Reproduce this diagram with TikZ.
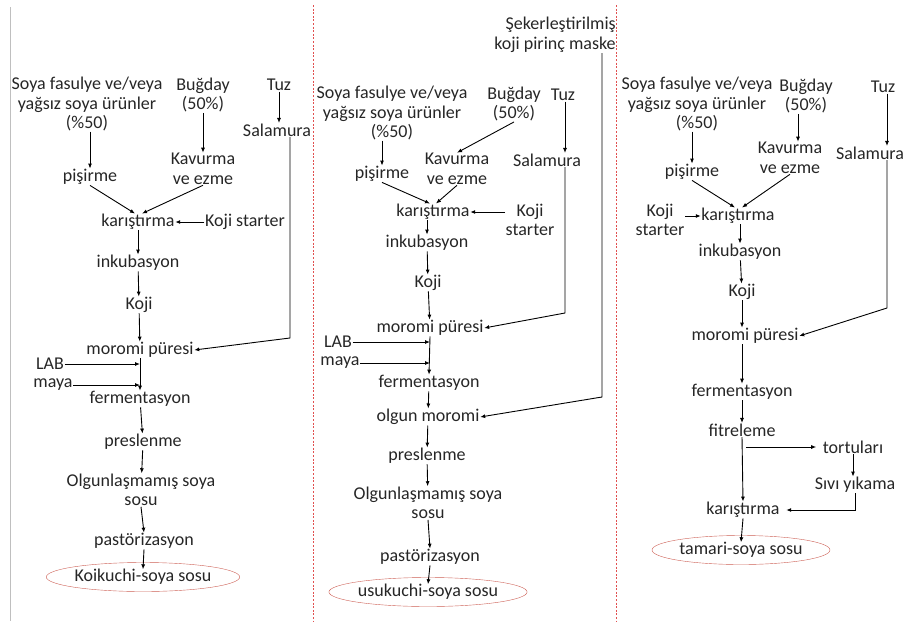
\documentclass[tikz,border=0pt]{standalone}
\usepackage{fontspec}
\setmainfont{Carlito}
\usepackage{tikz}
\usetikzlibrary{arrows.meta, shapes.geometric, positioning, calc}
\usepackage{xcolor}
\definecolor{ovalred}{RGB}{205,95,85}
\definecolor{sepred}{RGB}{225,80,80}
\tikzset{
  lbl/.style={
    inner sep=0.5pt, align=center, text=black!85,
    font=\fontsize{18}{19.5}\selectfont
  },
  product/.style={
    ellipse, draw=ovalred, thin, inner sep=0pt,
    minimum width=178pt, minimum height=29pt,
    text=black!85, font=\fontsize{18}{19.5}\selectfont
  },
  arrow/.style={-{Latex[length=5pt,width=4pt]}, draw=black, line width=0.9pt},
  divider/.style={draw=sepred, line width=0.9pt, dash pattern=on 2pt off 1.6pt}
}

\begin{document}
\begin{tikzpicture}[x=1pt, y=-1pt]
\useasboundingbox (0,0) rectangle (904,621);

% panel borders
\draw[black!25, line width=0.8pt] (10.5,7) -- (10.5,621);
\draw[divider] (313.5,5) -- (313.5,621);
\draw[divider] (616.5,5) -- (616.5,621);

% Panel 1: koikuchi
\node[lbl] (soy1) at (87,104) {Soya fasulye ve/veya\\yağsız soya ürünler\\(\%50)};
\node[lbl] (bug1) at (203,95) {Buğday\\(50\%)};
\node[lbl] (tuz1) at (279,85) {Tuz};
\node[lbl] (sal1) at (277,130) {Salamura};
\node[lbl] (pis1) at (90,177) {pişirme};
\node[lbl] (kav1) at (203,169) {Kavurma\\ve ezme};
\node[lbl] (kar1) at (138,222) {karıştırma};
\node[lbl] (ks1) at (245,222) {Koji starter};
\node[lbl] (ink1) at (138,263) {inkubasyon};
\node[lbl] (koj1) at (139,305) {Koji};
\node[lbl] (mor1) at (140,350) {moromi püresi};
\node[lbl] (lab1) at (50,364) {LAB};
\node[lbl] (may1) at (53,385) {maya};
\node[lbl] (fer1) at (140,399) {fermentasyon};
\node[lbl] (pre1) at (143,442) {preslenme};
\node[lbl] (olg1) at (141,490) {Olgunlaşmamış soya\\sosu};
\node[lbl] (pas1) at (144,541) {pastörizasyon};
\node[product] (end1) at (143,577) {Koikuchi-soya sosu};
\coordinate (c1) at (290,338);

\draw[arrow] (tuz1.south) -- (tuz1.south |- sal1.north);
\draw[arrow] (pis1.north |- soy1.south) -- (pis1.north);
\draw[arrow] (bug1.south) -- (kav1.north);
\draw[arrow] (pis1.south) -- ([xshift=-3pt]kar1.north);
\draw[arrow] (kav1.south) -- ([xshift=4pt]kar1.north);
\draw[arrow] (ks1.west) -- (kar1.east);
\draw[arrow] (kar1) -- (ink1);
\draw[arrow] (ink1) -- (koj1);
\draw[arrow] (koj1) -- (mor1);
\draw[arrow] (sal1.south -| c1) -- (c1) -- (mor1.east);
\draw[arrow] (lab1.east) -- (lab1.east -| mor1.south);
\draw[arrow] (may1.east) -- (may1.east -| mor1.south);
\draw[arrow] (mor1.south) -- (fer1.north);
\draw[arrow] (fer1) -- (pre1);
\draw[arrow] (pre1) -- (olg1);
\draw[arrow] (olg1.south) -- (pas1.north);
\draw[arrow] (pas1.south) -- ([yshift=-7pt]end1.north);

% Panel 2: usukuchi
\node[lbl, align=right] (sek2) at (555,35) {Şekerleştirilmiş\\koji pirinç maske};
\node[lbl] (soy2) at (392,113) {Soya fasulye ve/veya\\yağsız soya ürünler\\(\%50)};
\node[lbl] (bug2) at (514,104) {Buğday\\(50\%)};
\node[lbl] (tuz2) at (563,95) {Tuz};
\node[lbl] (sal2) at (547,160) {Salamura};
\node[lbl] (pis2) at (382,174) {pişirme};
\node[lbl] (kav2) at (457,169) {Kavurma\\ve ezme};
\node[lbl] (kar2) at (433,212) {karıştırma};
\node[lbl] (ks2) at (530,220) {Koji\\starter};
\node[lbl] (ink2) at (427,243) {inkubasyon};
\node[lbl] (koj2) at (428,283) {Koji};
\node[lbl] (mor2) at (430,328) {moromi püresi};
\node[lbl] (lab2) at (338,342) {LAB};
\node[lbl] (may2) at (340,363) {maya};
\node[lbl] (fer2) at (429,383) {fermentasyon};
\node[lbl] (olm2) at (428,417) {olgun moromi};
\node[lbl] (pre2) at (427,456) {preslenme};
\node[lbl] (olg2) at (428,503) {Olgunlaşmamış soya\\sosu};
\node[lbl] (pas2) at (430,557) {pastörizasyon};
\node[product] (end2) at (428,592) {usukuchi-soya sosu};
\coordinate (c2) at (565,313);
\coordinate (c3) at (602,397);

\draw[arrow] (tuz2.south -| c2) -- (c2 |- sal2.north);
\draw[arrow] (sal2.south -| c2) -- (c2) -- (mor2.east);
\draw[arrow] (sek2.south -| c3) -- (c3) -- (olm2.east);
\draw[arrow] (pis2.north |- soy2.south) -- (pis2.north);
\draw[arrow] (bug2.south) -- (kav2.north);
\draw[arrow] (pis2.south) -- ([xshift=-3pt]kar2.north);
\draw[arrow] (kav2.south) -- ([xshift=3pt]kar2.north);
\draw[arrow] (ks2.west |- kar2.east) -- (kar2.east);
\draw[arrow] (kar2.south -| ink2) -- (ink2.north);
\draw[arrow] (ink2) -- (koj2);
\draw[arrow] (koj2) -- (mor2);
\draw[arrow] (lab2.east) -- (lab2.east -| mor2.south);
\draw[arrow] (may2.east) -- (may2.east -| mor2.south);
\draw[arrow] (mor2.south) -- (fer2.north);
\draw[arrow] (fer2) -- (olm2);
\draw[arrow] (olm2) -- (pre2);
\draw[arrow] (pre2) -- (olg2);
\draw[arrow] (olg2.south) -- (pas2.north);
\draw[arrow] (pas2.south) -- ([yshift=-7pt]end2.north);

% Panel 3: tamari
\node[lbl] (soy3) at (697,104) {Soya fasulye ve/veya\\yağsız soya ürünler\\(\%50)};
\node[lbl] (bug3) at (806,96) {Buğday\\(50\%)};
\node[lbl] (tuz3) at (883,87) {Tuz};
\node[lbl] (sal3) at (870,153) {Salamura};
\node[lbl] (pis3) at (692,172) {pişirme};
\node[lbl] (kav3) at (790,158) {Kavurma\\ve ezme};
\node[lbl] (kar3) at (738,216) {karıştırma};
\node[lbl] (ks3) at (660,220) {Koji\\starter};
\node[lbl] (ink3) at (740,252) {inkubasyon};
\node[lbl] (koj3) at (742,292) {Koji};
\node[lbl] (mor3) at (745,336) {moromi püresi};
\node[lbl] (fer3) at (742,392) {fermentasyon};
\node[lbl] (fit3) at (742,430) {fitreleme};
\node[lbl] (tor3) at (853,447) {tortuları};
\node[lbl] (siv3) at (855,485) {Sıvı yıkama};
\node[lbl] (kar3b) at (743,510) {karıştırma};
\node[product] (end3) at (741,550) {tamari-soya sosu};
\coordinate (c4) at (887,308);

\draw[arrow] (tuz3.south -| c4) -- (c4 |- sal3.north);
\draw[arrow] (sal3.south -| c4) -- (c4) -- (mor3.east);
\draw[arrow] (pis3.north |- soy3.south) -- (pis3.north);
\draw[arrow] ([xshift=-8pt]bug3.south) -- ([xshift=8pt]kav3.north);
\draw[arrow] (pis3.south) -- ([xshift=-3pt]kar3.north);
\draw[arrow] (kav3.south) -- ([xshift=4pt]kar3.north);
\draw[arrow] (ks3.east |- kar3.west) -- (kar3.west);
\draw[arrow] (kar3.south -| ink3) -- (ink3.north);
\draw[arrow] (ink3) -- (koj3);
\draw[arrow] (koj3) -- (koj3 |- mor3.north);
\draw[arrow] (mor3.south -| fer3) -- (fer3.north);
\draw[arrow] (fer3) -- (fit3);
\draw[arrow] (fit3.south) -- (kar3b.north);
\draw[arrow] ([xshift=4pt]fit3.south |- tor3.west) -- ([xshift=-6pt]tor3.west);
\draw[arrow] (tor3.south) -- (tor3.south |- siv3.north);
\draw[arrow] (siv3.south) |- ([xshift=6pt]kar3b.east);
\draw[arrow] (kar3b.south) -- ([yshift=-7pt]end3.north);

\end{tikzpicture}
\end{document}
